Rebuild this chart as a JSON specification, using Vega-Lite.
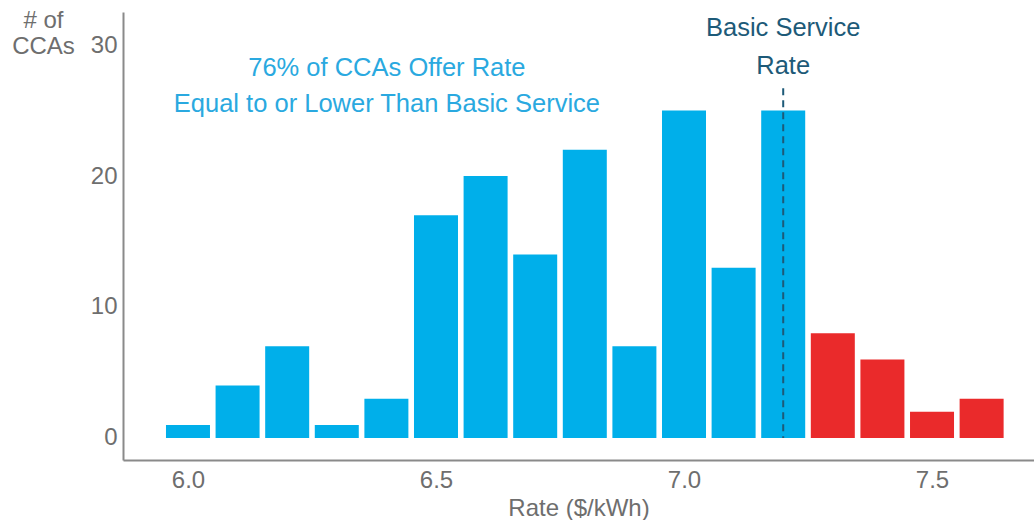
{
  "$schema": "https://vega.github.io/schema/vega-lite/v6.json",
  "width": 911,
  "height": 448,
  "autosize": {"type": "none"},
  "padding": {"left": 123, "top": 12, "right": 0, "bottom": 60},
  "background": "white",
  "config": {
    "view": {"stroke": null},
    "font": "Liberation Sans"
  },
  "layer": [
    {
      "data": {
        "values": [
          {"rate": 6.0, "count": 1, "group": "below"},
          {"rate": 6.1, "count": 4, "group": "below"},
          {"rate": 6.2, "count": 7, "group": "below"},
          {"rate": 6.3, "count": 1, "group": "below"},
          {"rate": 6.4, "count": 3, "group": "below"},
          {"rate": 6.5, "count": 17, "group": "below"},
          {"rate": 6.6, "count": 20, "group": "below"},
          {"rate": 6.7, "count": 14, "group": "below"},
          {"rate": 6.8, "count": 22, "group": "below"},
          {"rate": 6.9, "count": 7, "group": "below"},
          {"rate": 7.0, "count": 25, "group": "below"},
          {"rate": 7.1, "count": 13, "group": "below"},
          {"rate": 7.2, "count": 25, "group": "below"},
          {"rate": 7.3, "count": 8, "group": "above"},
          {"rate": 7.4, "count": 6, "group": "above"},
          {"rate": 7.5, "count": 2, "group": "above"},
          {"rate": 7.6, "count": 3, "group": "above"}
        ]
      },
      "mark": {"type": "bar", "width": 44},
      "encoding": {
        "x": {
          "field": "rate", "type": "quantitative",
          "scale": {"domain": [5.869, 7.7056], "nice": false, "zero": false, "padding": 0},
          "axis": {
            "values": [6.0, 6.5, 7.0, 7.5], "format": ".1f",
            "title": "Rate ($/kWh)", "grid": false, "ticks": false,
            "domainColor": "#8a8a8a", "domainWidth": 2,
            "labelFontSize": 24, "labelColor": "#6e6e6e", "labelPadding": 8,
            "titleFontSize": 24, "titleColor": "#6e6e6e", "titleFontWeight": "normal", "titlePadding": 4
          }
        },
        "y": {
          "field": "count", "type": "quantitative",
          "scale": {"domain": [-1.68, 32.52], "nice": false, "zero": false, "padding": 0},
          "axis": {
            "values": [0, 10, 20, 30],
            "title": ["# of", "CCAs"], "titleAngle": 0, "titleAlign": "center",
            "titleBaseline": "top", "titleX": -80, "titleY": -4,
            "titleFontSize": 24, "titleColor": "#6e6e6e", "titleFontWeight": "normal", "titleLineHeight": 26,
            "grid": false, "ticks": false,
            "domainColor": "#8a8a8a", "domainWidth": 2,
            "labelFontSize": 24, "labelColor": "#6e6e6e", "labelPadding": 6
          }
        },
        "color": {
          "field": "group", "type": "nominal",
          "scale": {"domain": ["below", "above"], "range": ["#00AFEA", "#EA2A2B"]},
          "legend": null
        }
      }
    },
    {
      "data": {"values": [{}]},
      "mark": {"type": "rule", "color": "#1D5A78", "strokeWidth": 2, "strokeDash": [7, 5]},
      "encoding": {
        "x": {"datum": 7.2, "type": "quantitative"},
        "y": {"datum": 26.7, "type": "quantitative"},
        "y2": {"datum": 0}
      }
    },
    {
      "data": {"values": [{}]},
      "mark": {"type": "text", "fontSize": 25.5, "fill": "#2AA9E0", "align": "center", "baseline": "middle"},
      "encoding": {
        "x": {"datum": 6.401, "type": "quantitative"},
        "y": {"datum": 28.24, "type": "quantitative"},
        "text": {"value": "76% of CCAs Offer Rate"}
      }
    },
    {
      "data": {"values": [{}]},
      "mark": {"type": "text", "fontSize": 25.5, "fill": "#2AA9E0", "align": "center", "baseline": "middle"},
      "encoding": {
        "x": {"datum": 6.401, "type": "quantitative"},
        "y": {"datum": 25.5, "type": "quantitative"},
        "text": {"value": "Equal to or Lower Than Basic Service"}
      }
    },
    {
      "data": {"values": [{}]},
      "mark": {"type": "text", "fontSize": 25.5, "fill": "#1D5A78", "align": "center", "baseline": "middle"},
      "encoding": {
        "x": {"datum": 7.2, "type": "quantitative"},
        "y": {"datum": 31.3, "type": "quantitative"},
        "text": {"value": "Basic Service"}
      }
    },
    {
      "data": {"values": [{}]},
      "mark": {"type": "text", "fontSize": 25.5, "fill": "#1D5A78", "align": "center", "baseline": "middle"},
      "encoding": {
        "x": {"datum": 7.2, "type": "quantitative"},
        "y": {"datum": 28.4, "type": "quantitative"},
        "text": {"value": "Rate"}
      }
    }
  ]
}
